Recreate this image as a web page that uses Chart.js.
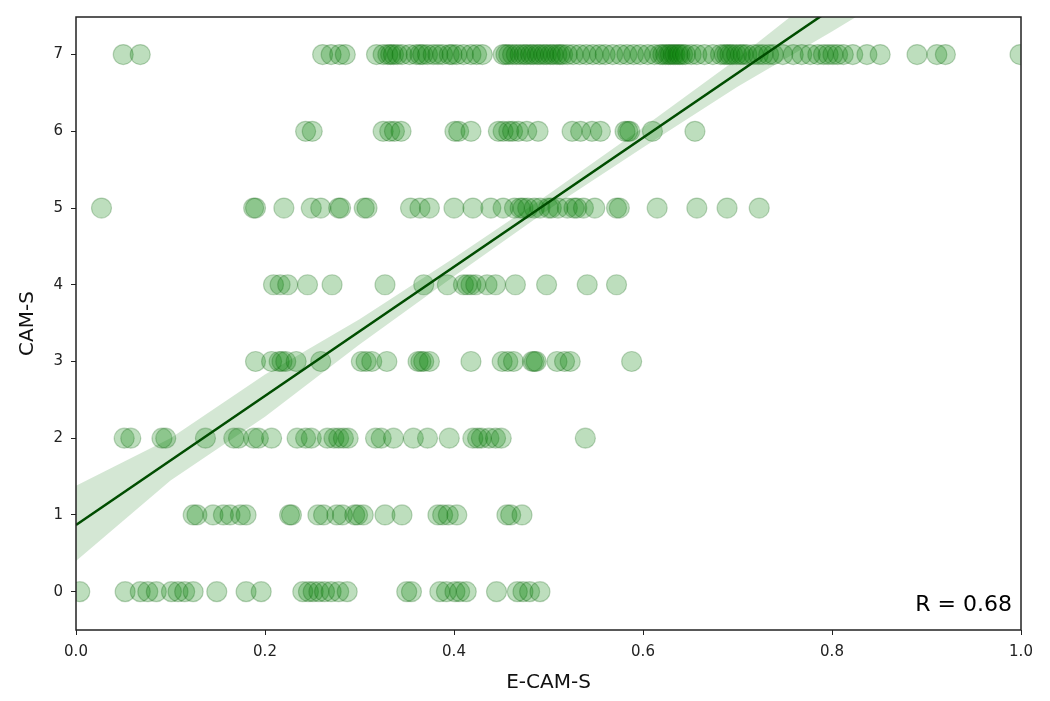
<!DOCTYPE html>
<html>
<head>
<meta charset="utf-8">
<script src="https://cdn.jsdelivr.net/npm/chart.js@4"></script>
<style>
  html, body { margin: 0; padding: 0; background: #fff; }
  #wrap { width: 1050px; height: 701px; }
</style>
</head>
<body>
<div id="wrap"><canvas id="myChart" width="1050" height="701"></canvas></div>
<script>
// E-CAM-S values for each CAM-S score
const row0 = [0.004, 0.052, 0.068, 0.076, 0.085, 0.101, 0.108, 0.115, 0.124, 0.149, 0.18, 0.196, 0.24, 0.246, 0.251, 0.257, 0.263, 0.27, 0.278, 0.287, 0.35, 0.355, 0.385, 0.392, 0.401, 0.406, 0.413, 0.445, 0.467, 0.473, 0.48, 0.491]
const row1 = [0.124, 0.128, 0.145, 0.156, 0.163, 0.174, 0.18, 0.226, 0.228, 0.256, 0.262, 0.276, 0.282, 0.295, 0.298, 0.304, 0.327, 0.345, 0.383, 0.388, 0.394, 0.403, 0.456, 0.46, 0.472]
const row2 = [0.051, 0.058, 0.091, 0.095, 0.137, 0.167, 0.172, 0.188, 0.193, 0.207, 0.234, 0.243, 0.249, 0.266, 0.273, 0.278, 0.283, 0.288, 0.317, 0.323, 0.336, 0.357, 0.372, 0.395, 0.42, 0.425, 0.429, 0.437, 0.444, 0.45, 0.539]
const row3 = [0.19, 0.207, 0.215, 0.218, 0.222, 0.233, 0.259, 0.302, 0.307, 0.313, 0.329, 0.362, 0.365, 0.368, 0.374, 0.418, 0.451, 0.457, 0.463, 0.483, 0.485, 0.487, 0.509, 0.517, 0.523, 0.588]
const row4 = [0.209, 0.216, 0.224, 0.245, 0.271, 0.327, 0.368, 0.393, 0.41, 0.414, 0.418, 0.423, 0.435, 0.444, 0.465, 0.498, 0.541, 0.572]
const row5 = [0.027, 0.188, 0.19, 0.22, 0.249, 0.259, 0.278, 0.28, 0.305, 0.308, 0.354, 0.364, 0.374, 0.4, 0.42, 0.439, 0.452, 0.464, 0.47, 0.473, 0.478, 0.485, 0.491, 0.5, 0.503, 0.51, 0.52, 0.527, 0.53, 0.537, 0.549, 0.572, 0.575, 0.615, 0.657, 0.689, 0.723]
const row6 = [0.243, 0.25, 0.325, 0.332, 0.337, 0.344, 0.401, 0.405, 0.418, 0.447, 0.452, 0.458, 0.462, 0.468, 0.477, 0.489, 0.525, 0.534, 0.546, 0.555, 0.581, 0.584, 0.586, 0.61, 0.655]
const row7 = [0.05, 0.068, 0.261, 0.27, 0.279, 0.285, 0.318, 0.325, 0.33, 0.333, 0.336, 0.34, 0.345, 0.353, 0.36, 0.364, 0.367, 0.372, 0.378, 0.383, 0.388, 0.395, 0.398, 0.403, 0.41, 0.418, 0.424, 0.43, 0.452, 0.455, 0.458, 0.462, 0.466, 0.47, 0.474, 0.477, 0.481, 0.484, 0.488, 0.491, 0.495, 0.498, 0.502, 0.505, 0.509, 0.512, 0.515, 0.52, 0.526, 0.533, 0.54, 0.547, 0.554, 0.56, 0.568, 0.576, 0.583, 0.59, 0.597, 0.605, 0.612, 0.618, 0.621, 0.624, 0.627, 0.629, 0.632, 0.634, 0.637, 0.639, 0.642, 0.645, 0.651, 0.657, 0.665, 0.674, 0.682, 0.686, 0.689, 0.692, 0.695, 0.699, 0.703, 0.706, 0.71, 0.717, 0.722, 0.727, 0.733, 0.738, 0.748, 0.759, 0.768, 0.777, 0.785, 0.791, 0.796, 0.801, 0.806, 0.812, 0.822, 0.837, 0.851, 0.89, 0.911, 0.92, 0.999]

// regression line and its confidence band
const fitX = [0, 0.85]
const fitY = [0.87, 8.02]
const bandX = [0, 0.1, 0.2, 0.3, 0.4, 0.5, 0.6, 0.7, 0.8, 0.9]
const bandLow = [0.40, 1.45, 2.28, 3.22, 4.11, 4.98, 5.79, 6.58, 7.30, 8.05]
const bandHigh = [1.38, 2.00, 2.83, 3.55, 4.35, 5.18, 6.05, 6.95, 7.92, 8.85]

const xTicks = [0, 0.2, 0.4, 0.6, 0.8, 1.0]
const yTicks = [0, 1, 2, 3, 4, 5, 6, 7]
const rLabel = "R = 0.68"

const rows = [row0, row1, row2, row3, row4, row5, row6, row7]
let puntos = []
rows.forEach((fila, score) => {
    fila.forEach(x => puntos.push({x: x, y: score}))
})

const tickFont = {family: "DejaVu Sans", size: 15}
const titleFont = {family: "DejaVu Sans", size: 20}

const boxPlugin = {
    id: "boxPlugin",
    afterDraw(chart) {
        const {ctx, chartArea} = chart
        ctx.save()
        ctx.strokeStyle = "#222"
        ctx.lineWidth = 1.5
        ctx.strokeRect(chartArea.left, chartArea.top, chartArea.right - chartArea.left, chartArea.bottom - chartArea.top)
        ctx.fillStyle = "#000"
        ctx.font = "22px 'DejaVu Sans'"
        ctx.textAlign = "right"
        ctx.textBaseline = "alphabetic"
        ctx.fillText(rLabel, chartArea.right - 9, chartArea.bottom - 19)
        ctx.restore()
    }
}

const ctx = document.getElementById("myChart").getContext("2d")
window.myChart = new Chart(ctx, {
    type: "scatter",
    data: {
        datasets: [
            {
                label: "band low",
                data: bandX.map((x, i) => ({x: x, y: bandLow[i]})),
                showLine: true,
                pointRadius: 0,
                borderWidth: 0,
                borderColor: "rgba(0,0,0,0)",
                fill: false,
                order: 3
            },
            {
                label: "band high",
                data: bandX.map((x, i) => ({x: x, y: bandHigh[i]})),
                showLine: true,
                pointRadius: 0,
                borderWidth: 0,
                borderColor: "rgba(0,0,0,0)",
                backgroundColor: "rgba(0,110,0,0.17)",
                fill: "-1",
                order: 3
            },
            {
                label: "CAM-S",
                data: puntos,
                pointRadius: 10,
                pointBackgroundColor: "rgba(0,128,0,0.26)",
                pointBorderColor: "rgba(0,90,0,0.25)",
                pointBorderWidth: 1.2,
                order: 2
            },
            {
                label: "fit",
                data: fitX.map((x, i) => ({x: x, y: fitY[i]})),
                showLine: true,
                pointRadius: 0,
                borderColor: "#004d00",
                borderWidth: 2.5,
                order: 1
            }
        ]
    },
    options: {
        animation: false,
        responsive: false,
        layout: {padding: {left: 16, right: 29, top: 15, bottom: 0}},
        plugins: {legend: {display: false}, tooltip: {enabled: false}},
        scales: {
            x: {
                type: "linear",
                min: 0,
                max: 1,
                afterBuildTicks: s => { s.ticks = xTicks.map(v => ({value: v})) },
                afterFit: s => { s.height = 71 },
                ticks: {color: "#222", font: tickFont, padding: 8, maxRotation: 0, callback: v => v.toFixed(1)},
                grid: {drawOnChartArea: false, drawTicks: true, tickLength: 5, color: "#222"},
                border: {display: false},
                title: {display: true, text: "E-CAM-S", color: "#111", font: titleFont, padding: {top: 0, bottom: 6}}
            },
            y: {
                type: "linear",
                min: -0.5,
                max: 7.49,
                afterBuildTicks: s => { s.ticks = yTicks.map(v => ({value: v})) },
                afterFit: s => { s.width = 60 },
                ticks: {color: "#222", font: tickFont, padding: 8},
                grid: {drawOnChartArea: false, drawTicks: true, tickLength: 5, color: "#222"},
                border: {display: false},
                title: {display: true, text: "CAM-S", color: "#111", font: titleFont, padding: {top: 0, bottom: 4}}
            }
        }
    },
    plugins: [boxPlugin]
})
</script>
</body>
</html>
